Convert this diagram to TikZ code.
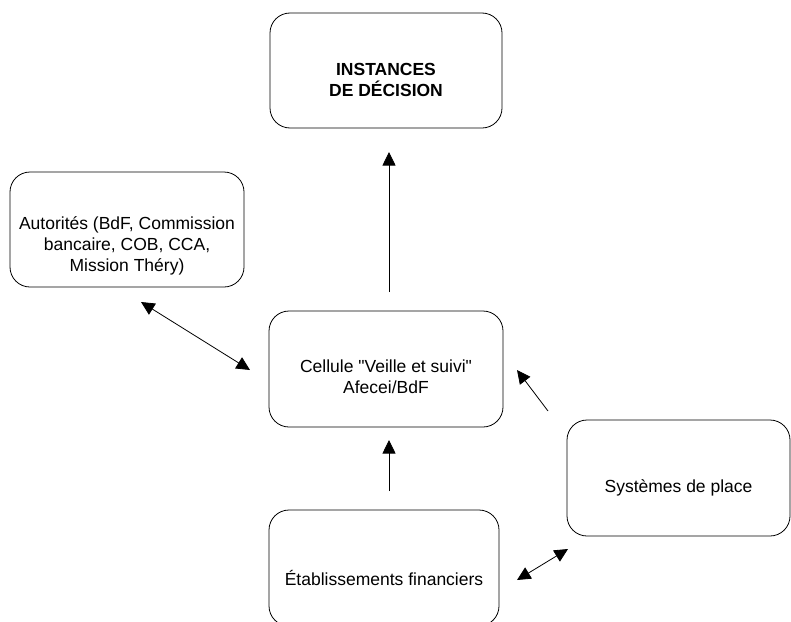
\documentclass[tikz,border=0pt]{standalone}
\usepackage{fontspec}
\setmainfont{Liberation Sans}[Ligatures=TeXOff]
\usetikzlibrary{arrows.meta}
\begin{document}
\begin{tikzpicture}[x=1pt,y=-1pt,
  box/.style={draw=black,line width=0.8pt,rounded corners=20pt,inner sep=0pt},
  txt/.style={align=center,inner sep=0pt,font=\fontsize{17.5}{21}\selectfont},
  conn/.style={line width=0.8pt,-{Triangle[length=13.5pt,width=13pt]}},
  conn2/.style={line width=0.8pt,{Triangle[length=13.5pt,width=13pt]}-{Triangle[length=13.5pt,width=13pt]}}]
\useasboundingbox (0,0) rectangle (791,621);
\clip (0,0) rectangle (791,621);
% boxes
\node[box,minimum width=232pt,minimum height=115pt] (inst) at (386,70.5) {};
\node[box,minimum width=234pt,minimum height=115pt] (aut) at (127,229.5) {};
\node[box,minimum width=234pt,minimum height=116pt] (cell) at (386,369) {};
\node[box,minimum width=223pt,minimum height=116pt] (sys) at (678.5,478) {};
\node[box,minimum width=230pt,minimum height=116pt] (etab) at (384,568) {};
% texts
\node[txt,font=\fontsize{17.5}{21}\selectfont\bfseries] (instT) at (386,80) {INSTANCES\\DE DÉCISION};
\node[txt] (autT) at (127,246) {Autorités (BdF, Commission\\bancaire, COB, CCA,\\Mission Théry)};
\node[txt] (cellT) at (386,377) {Cellule "Veille et suivi"\\Afecei/BdF};
\node[txt] (sysT) at (678.5,488) {Systèmes de place};
\node[txt] (etabT) at (384,578) {Établissements financiers};
% connector end points
\coordinate (a1) at (389,292);
\coordinate (a2) at (389,152);
\coordinate (b1) at (141,302);
\coordinate (b2) at (250,370);
\coordinate (c1) at (389,491);
\coordinate (c2) at (389,440);
\coordinate (d1) at (548,411);
\coordinate (d2) at (517,370);
\coordinate (e1) at (517,580);
\coordinate (e2) at (568,549);
% connectors
\draw[conn] (a1) -- (a2);
\draw[conn2] (b1) -- (b2);
\draw[conn] (c1) -- (c2);
\draw[conn] (d1) -- (d2);
\draw[conn2] (e1) -- (e2);
\end{tikzpicture}
\end{document}
